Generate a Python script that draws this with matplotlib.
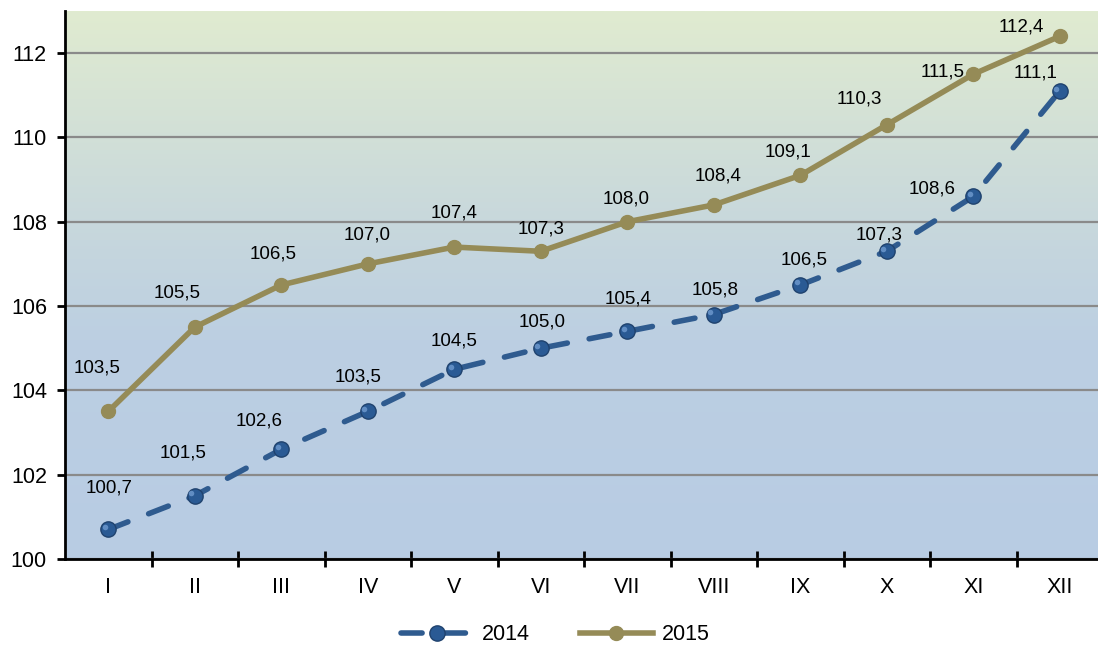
import numpy as np
import matplotlib
matplotlib.use('Agg')
import matplotlib.pyplot as plt
from matplotlib.colors import LinearSegmentedColormap
from matplotlib.lines import Line2D

plt.rcParams['font.family'] = ['Liberation Sans', 'DejaVu Sans']

months = ['I', 'II', 'III', 'IV', 'V', 'VI', 'VII', 'VIII', 'IX', 'X', 'XI', 'XII']
values2014 = [100.7, 101.5, 102.6, 103.5, 104.5, 105.0, 105.4, 105.8, 106.5, 107.3, 108.6, 111.1]
values2015 = [103.5, 105.5, 106.5, 107.0, 107.4, 107.3, 108.0, 108.4, 109.1, 110.3, 111.5, 112.4]

# label offsets in pixels (dx, dy)
offs2014 = [(1, 41), (-12, 43), (-22, 28), (-10, 34), (0, 28), (1, 26), (1, 32), (1, 25), (4, 25), (-8, 16), (-41, 7), (-24, 18)]
offs2015 = [(-11, 43), (-18, 34), (-8, 31), (-1, 29), (0, 34), (0, 22), (-1, 23), (4, 29), (-12, 23), (-27, 26), (-31, 2), (-38, 9)]

blue = '#2f5b8f'
olive = '#958b57'

fig = plt.figure(figsize=(10.98, 6.46), dpi=100)
ax = fig.add_axes([65/1098, 87/646, 1038/1098, 548/646])

x = np.arange(len(months))
ax.set_xlim(-0.5, len(months) - 0.5)
ax.set_ylim(100, 113)

# gradient background
cmap = LinearSegmentedColormap.from_list('bg', [(0, '#b8cce4'), (0.4, '#bccfe2'), (0.62, '#c8d8dc'), (1, '#e0ebd0')])
grad = np.linspace(0, 1, 256).reshape(-1, 1)
ax.imshow(grad, aspect='auto', cmap=cmap, origin='lower', extent=[0, 1, 0, 1],
          transform=ax.transAxes, zorder=0)

ax.set_yticks(np.arange(100, 113, 2))
ax.yaxis.grid(True, color='#8a8a8a', lw=1.6, zorder=1)
ax.set_axisbelow(True)

l14, = ax.plot(x, values2014, color=blue, lw=4, dash_capstyle='round', zorder=3)
l14.set_dashes((3.8, 4.0))
ax.plot(x, values2014, 'o', ms=11, mfc='#2a5a94', mec='#1f426e', mew=1, zorder=4)
ax.plot(x - 0.04, np.array(values2014) + 0.06, 'o', ms=4, mfc='#6f9bd0', mec='none', alpha=0.8, zorder=5)

ax.plot(x, values2015, color=olive, lw=4, marker='o', ms=10, mfc=olive, mec=olive, zorder=3)

for i in range(len(months)):
    ax.annotate(f'{values2014[i]:.1f}'.replace('.', ','), (x[i], values2014[i]),
                xytext=offs2014[i], textcoords='offset pixels', ha='center', va='center',
                fontsize=13.5, color='black', zorder=6)
    ax.annotate(f'{values2015[i]:.1f}'.replace('.', ','), (x[i], values2015[i]),
                xytext=offs2015[i], textcoords='offset pixels', ha='center', va='center',
                fontsize=13.5, color='black', zorder=6)

ax.set_xticks(x)
ax.set_xticklabels(months)
ax.set_xticks(np.arange(len(months)) + 0.5, minor=True)
ax.tick_params(axis='x', which='major', length=0, labelsize=15.5, pad=13)
ax.tick_params(axis='x', which='minor', direction='inout', length=11, width=2)
ax.tick_params(axis='y', length=6, width=2, labelsize=15.5, pad=7)

for s in ['top', 'right']:
    ax.spines[s].set_visible(False)
for s in ['left', 'bottom']:
    ax.spines[s].set_linewidth(2)

h14 = Line2D([], [], color=blue, lw=4, ls=(0, (3.8, 4.0)), dash_capstyle='round',
             marker='o', ms=11, mfc='#2a5a94', mec='#1f426e')
h15 = Line2D([], [], color=olive, lw=4, marker='o', ms=10, mfc=olive, mec=olive)
fig.legend([h14, h15], ['2014', '2015'], loc='center', bbox_to_anchor=(0.5 + 6/1098, 10/646 + 0.002),
           ncol=2, frameon=False, fontsize=15.5, handlelength=3.4, columnspacing=2.3, handletextpad=0.4)

fig.savefig('out.png', dpi=100)
